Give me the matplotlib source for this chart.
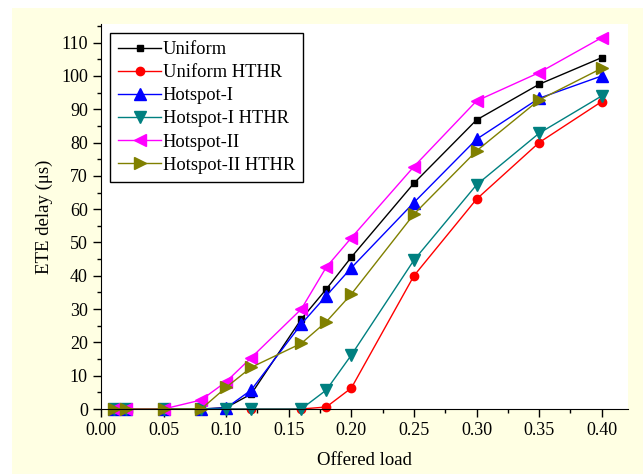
import matplotlib.pyplot as plt
from matplotlib.patches import Rectangle
from matplotlib.ticker import MultipleLocator

plt.rcParams['font.family'] = ['Liberation Serif', 'DejaVu Serif']

load = [0.01, 0.02, 0.05, 0.08, 0.10, 0.12, 0.16, 0.18, 0.20, 0.25, 0.30, 0.35, 0.40]

uniform = [0, 0, 0, 0, 0.4, 4.5, 27, 36, 45.6, 67.8, 86.8, 97.5, 105.5]
uniform_hthr = [0, 0, 0, 0, 0, 0, 0, 0.6, 6.3, 40, 63, 80, 92.3]
hot1 = [0, 0, 0, 0, 0.3, 5.7, 25.5, 34, 42.4, 62, 81, 93.3, 100]
hot1_hthr = [0, 0, 0, 0, 0, 0, 0, 5.7, 16.2, 44.7, 67.3, 82.8, 94]
hot2 = [0, 0, 0, 2.7, 8.2, 15.4, 30, 42.6, 51.4, 72.8, 92.5, 101, 111.5]
hot2_hthr = [0, 0, 0, 0, 6.5, 12.5, 19.7, 26.2, 34.5, 58.5, 77.5, 92.8, 102.3]

series = [
    ('Uniform', uniform, 'black', 's', 5),
    ('Uniform HTHR', uniform_hthr, 'red', 'o', 6),
    ('Hotspot-I', hot1, 'blue', '^', 9),
    ('Hotspot-I HTHR', hot1_hthr, '#008080', 'v', 9),
    ('Hotspot-II', hot2, 'magenta', '<', 9),
    ('Hotspot-II HTHR', hot2_hthr, '#808000', '>', 9),
]

fig = plt.figure(figsize=(6.43, 4.74), dpi=100, facecolor='white')
bg = Rectangle((12 / 643, 0), 1, 1 - 8 / 474, transform=fig.transFigure,
               facecolor='#FFFFE3', edgecolor='none', zorder=-10)
fig.add_artist(bg)
ax = fig.add_axes([101 / 643, 1 - 409 / 474, 527 / 643, 385 / 474])
ax.set_facecolor('white')

for name, vals, col, mk, ms in series:
    ax.plot(load, vals, color=col, marker=mk, markersize=ms, linewidth=1,
            label=name, clip_on=False)

ax.set_xlim(0, 0.421)
ax.set_ylim(0, 115.6)
ax.xaxis.set_major_locator(MultipleLocator(0.05))
ax.xaxis.set_minor_locator(MultipleLocator(0.025))
ax.yaxis.set_major_locator(MultipleLocator(10))
ax.yaxis.set_minor_locator(MultipleLocator(5))
ax.xaxis.set_major_formatter(plt.FormatStrFormatter('%.2f'))

for s in ['top', 'right']:
    ax.spines[s].set_visible(False)
ax.tick_params(which='major', direction='out', length=6, width=1, labelsize=13)
ax.tick_params(which='minor', direction='out', length=3, width=1)

ax.set_xlabel('Offered load', fontsize=13.5, labelpad=9)
ax.set_ylabel('ETE delay (μs)', fontsize=13.5, labelpad=6)

leg = ax.legend(loc='upper left', bbox_to_anchor=(0.017, 0.977), fontsize=13.3,
                frameon=True, fancybox=False, edgecolor='black', framealpha=1,
                handlelength=2.3, handletextpad=0.1, labelspacing=0.33,
                borderpad=0.45, borderaxespad=0)
leg.get_frame().set_linewidth(1)

fig.savefig('out.png', dpi=100, facecolor=fig.get_facecolor())
